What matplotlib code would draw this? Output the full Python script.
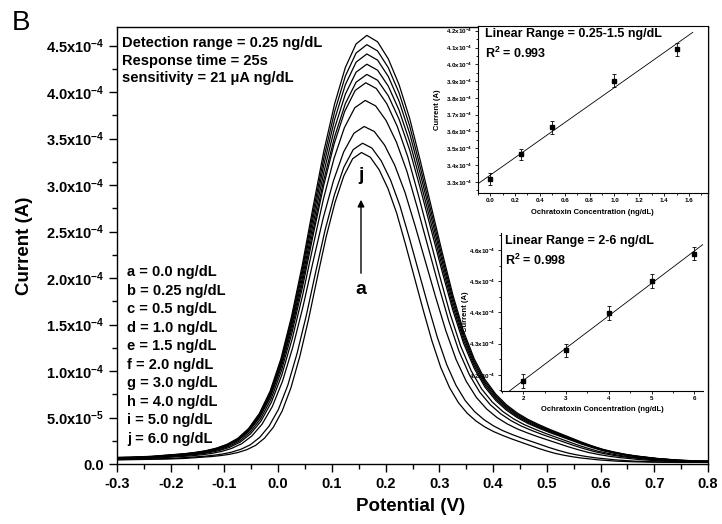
import matplotlib
matplotlib.use('Agg')
import matplotlib.pyplot as plt
import numpy as np
from matplotlib.ticker import MultipleLocator

plt.rcParams['font.family'] = ['Liberation Sans', 'DejaVu Sans']
plt.rcParams['mathtext.fontset'] = 'custom'
plt.rcParams['mathtext.rm'] = 'Liberation Sans:bold'
plt.rcParams['mathtext.bf'] = 'Liberation Sans:bold'
plt.rcParams['mathtext.it'] = 'Liberation Sans:bold'
plt.rcParams['axes.linewidth'] = 1.0

# DPV curves a..j (peak current in 1e-4 A, peak potential in V)
conc_labels = ['a = 0.0 ng/dL', 'b = 0.25 ng/dL', 'c = 0.5 ng/dL', 'd = 1.0 ng/dL',
               'e = 1.5 ng/dL', 'f = 2.0 ng/dL', 'g = 3.0 ng/dL', 'h = 4.0 ng/dL',
               'i = 5.0 ng/dL', 'j = 6.0 ng/dL']
peak_current = [3.35, 3.45, 3.63, 3.91, 4.10, 4.19, 4.30, 4.41, 4.51, 4.61]
peak_potential = [0.155, 0.157, 0.160, 0.162, 0.163, 0.165, 0.165, 0.165, 0.165, 0.165]
peak_width = [0.82, 0.87, 0.95, 0.97, 0.98, 1.0, 1.0, 1.0, 1.0, 1.0]

# peak shape: offset from peak (V) -> fraction of peak
shape_offset = [-0.60, -0.56, -0.52, -0.48, -0.44, -0.40, -0.36, -0.34, -0.32, -0.30,
                -0.28, -0.26, -0.24, -0.22, -0.20, -0.18, -0.16, -0.14, -0.12, -0.10,
                -0.08, -0.06, -0.04, -0.02, 0.0, 0.02, 0.04, 0.06, 0.08, 0.10,
                0.12, 0.14, 0.16, 0.18, 0.20, 0.22, 0.24, 0.26, 0.28, 0.30,
                0.32, 0.34, 0.36, 0.38, 0.40, 0.42, 0.44, 0.46, 0.48, 0.50,
                0.54, 0.58, 0.62, 0.66, 0.72, 0.80]
shape_value = [0.012, 0.013, 0.014, 0.015, 0.016, 0.018, 0.022, 0.024, 0.027, 0.031,
               0.037, 0.046, 0.060, 0.083, 0.118, 0.170, 0.245, 0.345, 0.465, 0.600,
               0.730, 0.840, 0.925, 0.980, 1.000, 0.985, 0.945, 0.885, 0.805, 0.705,
               0.600, 0.495, 0.395, 0.310, 0.245, 0.197, 0.163, 0.138, 0.119, 0.104,
               0.092, 0.081, 0.071, 0.061, 0.051, 0.042, 0.034, 0.028, 0.023, 0.019,
               0.013, 0.009, 0.007, 0.006, 0.005, 0.005]

x_ticks = [-0.3, -0.2, -0.1, 0.0, 0.1, 0.2, 0.3, 0.4, 0.5, 0.6, 0.7, 0.8]
x_ticklabels = ['-0.3', '-0.2', '-0.1', '0.0', '0.1', '0.2', '0.3', '0.4', '0.5', '0.6', '0.7', '0.8']
y_ticks = [0.0, 0.5e-4, 1.0e-4, 1.5e-4, 2.0e-4, 2.5e-4, 3.0e-4, 3.5e-4, 4.0e-4, 4.5e-4]
y_ticklabels = ['0.0', r'5.0x10$^{-5}$', r'1.0x10$^{-4}$', r'1.5x10$^{-4}$', r'2.0x10$^{-4}$',
                r'2.5x10$^{-4}$', r'3.0x10$^{-4}$', r'3.5x10$^{-4}$', r'4.0x10$^{-4}$', r'4.5x10$^{-4}$']

# inset 1: low range
low_conc = [0.0, 0.25, 0.5, 1.0, 1.5]
low_current = [3.316, 3.463, 3.624, 3.902, 4.089]
low_err = [0.035, 0.035, 0.037, 0.040, 0.040]
low_yticks = [3.3, 3.4, 3.5, 3.6, 3.7, 3.8, 3.9, 4.0, 4.1, 4.2]
low_xticks = [0.0, 0.2, 0.4, 0.6, 0.8, 1.0, 1.2, 1.4, 1.6]

# inset 2: high range
high_conc = [2, 3, 4, 5, 6]
high_current = [4.180, 4.279, 4.399, 4.500, 4.589]
high_err = [0.021, 0.021, 0.022, 0.022, 0.022]
high_yticks = [4.2, 4.3, 4.4, 4.5, 4.6]
high_xticks = [2, 3, 4, 5, 6]

W, H = 722, 524


def px(x, y):
    return x / W, 1 - y / H


fig = plt.figure(figsize=(W / 100, H / 100), dpi=100)
ax = fig.add_axes([117 / W, 1 - 464 / H, (708 - 117) / W, (464 - 27) / H])

for i in range(len(peak_current)):
    xs = peak_potential[i] + np.array(shape_offset) * peak_width[i]
    ys = peak_current[i] * 1e-4 * np.array(shape_value)
    ax.plot(xs, ys, color='black', lw=0.9)

ax.set_xlim(-0.3, 0.8)
ax.set_ylim(0, 4.7e-4)
ax.set_xticks(x_ticks)
ax.set_xticklabels(x_ticklabels, fontweight='bold')
ax.set_yticks(y_ticks)
ax.set_yticklabels(y_ticklabels, fontweight='bold')
ax.xaxis.set_minor_locator(MultipleLocator(0.05))
ax.yaxis.set_minor_locator(MultipleLocator(0.25e-4))
ax.tick_params(which='major', direction='out', length=6, width=1, labelsize=10.5, pad=3)
ax.tick_params(which='minor', direction='out', length=3.5, width=1)
ax.set_xlabel('Potential (V)', fontsize=13.5, fontweight='bold')
ax.xaxis.set_label_coords(0.496, -0.078)
ax.set_ylabel('Current (A)', fontsize=13.5, fontweight='bold')
ax.yaxis.set_label_coords(-0.142, 0.5)

fig.text(*px(12, 23), 'B', fontsize=20, ha='left', va='center')
fig.text(*px(122, 36), 'Detection range = 0.25 ng/dL\nResponse time = 25s\nsensitivity = 21 \u03bcA ng/dL',
         fontsize=10.5, fontweight='bold', ha='left', va='top', linespacing=1.33)
fig.text(*px(127, 265), '\n'.join(conc_labels), fontsize=10.5, fontweight='bold',
         ha='left', va='top', linespacing=1.41)
fig.text(*px(361, 176), 'j', fontsize=14, fontweight='bold', ha='center', va='center')
fig.text(*px(361, 289), 'a', fontsize=14, fontweight='bold', ha='center', va='center')
ax.annotate('', xy=px(361, 197), xytext=px(361, 276), xycoords='figure fraction',
            textcoords='figure fraction',
            arrowprops=dict(arrowstyle='-|>', color='black', lw=1.0, mutation_scale=10))

# inset 1
ax1 = fig.add_axes([477.7 / W, 1 - 192.7 / H, 230 / W, 167 / H])
ax1.errorbar(low_conc, np.array(low_current) * 1e-4, yerr=np.array(low_err) * 1e-4, fmt='s',
             ms=2.8, color='black', ecolor='black', elinewidth=0.6, capsize=1.6, capthick=0.6)
k1 = np.polyfit(low_conc, low_current, 1)
fx1 = np.array([-0.1, 1.63])
ax1.plot(fx1, np.polyval(k1, fx1) * 1e-4, color='black', lw=0.6)
ax1.set_xlim(-0.1, 1.75)
ax1.set_ylim(3.235e-4, 4.23e-4)
ax1.set_xticks(low_xticks)
ax1.set_xticklabels(['%.1f' % v for v in low_xticks], fontweight='bold')
ax1.set_yticks([v * 1e-4 for v in low_yticks])
ax1.set_yticklabels([r'%.1fx10$^{-4}$' % v for v in low_yticks], fontweight='bold')
ax1.xaxis.set_minor_locator(MultipleLocator(0.1))
ax1.yaxis.set_minor_locator(MultipleLocator(0.05e-4))
ax1.tick_params(which='major', direction='out', length=2.5, width=0.6, labelsize=4.5, pad=1.5)
ax1.tick_params(which='minor', direction='out', length=1.5, width=0.6)
for s in ax1.spines.values():
    s.set_linewidth(0.8)
ax1.set_xlabel('Ochratoxin Concentration (ng/dL)', fontsize=5.5, fontweight='bold')
ax1.xaxis.set_label_coords(0.5, -0.1)
ax1.set_ylabel('Current (A)', fontsize=5.5, fontweight='bold')
ax1.yaxis.set_label_coords(-0.16, 0.5)
ax1.text((485 - 477.7) / 230, (192.7 - 28) / 167, 'Linear Range = 0.25-1.5 ng/dL',
         transform=ax1.transAxes, fontsize=9.0, fontweight='bold', ha='left', va='top')
ax1.text((485 - 477.7) / 230, (192.7 - 46) / 167, r'R$^2$ = 0.993',
         transform=ax1.transAxes, fontsize=9.0, fontweight='bold', ha='left', va='top')

# inset 2
ax2 = fig.add_axes([501 / W, 1 - 390.7 / H, 202.3 / W, 157.4 / H])
ax2.errorbar(high_conc, np.array(high_current) * 1e-4, yerr=np.array(high_err) * 1e-4, fmt='s',
             ms=2.8, color='black', ecolor='black', elinewidth=0.6, capsize=1.6, capthick=0.6)
k2 = np.polyfit(high_conc, high_current, 1)
fx2 = np.array([1.5, 6.21])
ax2.plot(fx2, np.polyval(k2, fx2) * 1e-4, color='black', lw=0.6)
ax2.set_xlim(1.48, 6.21)
ax2.set_ylim(4.149e-4, 4.654e-4)
ax2.set_xticks(high_xticks)
ax2.set_xticklabels([str(v) for v in high_xticks], fontweight='bold')
ax2.set_yticks([v * 1e-4 for v in high_yticks])
ax2.set_yticklabels([r'%.1fx10$^{-4}$' % v for v in high_yticks], fontweight='bold')
ax2.xaxis.set_minor_locator(MultipleLocator(0.5))
ax2.yaxis.set_minor_locator(MultipleLocator(0.05e-4))
ax2.tick_params(which='major', direction='out', length=2.5, width=0.6, labelsize=4.5, pad=1.5)
ax2.tick_params(which='minor', direction='out', length=1.5, width=0.6)
ax2.spines['top'].set_visible(False)
ax2.spines['right'].set_visible(False)
ax2.spines['left'].set_linewidth(0.8)
ax2.spines['bottom'].set_linewidth(0.8)
ax2.patch.set_alpha(0)
ax2.set_xlabel('Ochratoxin Concentration (ng/dL)', fontsize=5.5, fontweight='bold')
ax2.xaxis.set_label_coords(0.5, -0.1)
ax2.set_ylabel('Current (A)', fontsize=5.5, fontweight='bold')
ax2.yaxis.set_label_coords(-0.16, 0.5)
ax2.text((505 - 501) / 202.3, (390.7 - 235) / 157.4, 'Linear Range = 2-6 ng/dL',
         transform=ax2.transAxes, fontsize=9.0, fontweight='bold', ha='left', va='top')
ax2.text((505 - 501) / 202.3, (390.7 - 253) / 157.4, r'R$^2$ = 0.998',
         transform=ax2.transAxes, fontsize=9.0, fontweight='bold', ha='left', va='top')

fig.savefig('out.png', dpi=100)
